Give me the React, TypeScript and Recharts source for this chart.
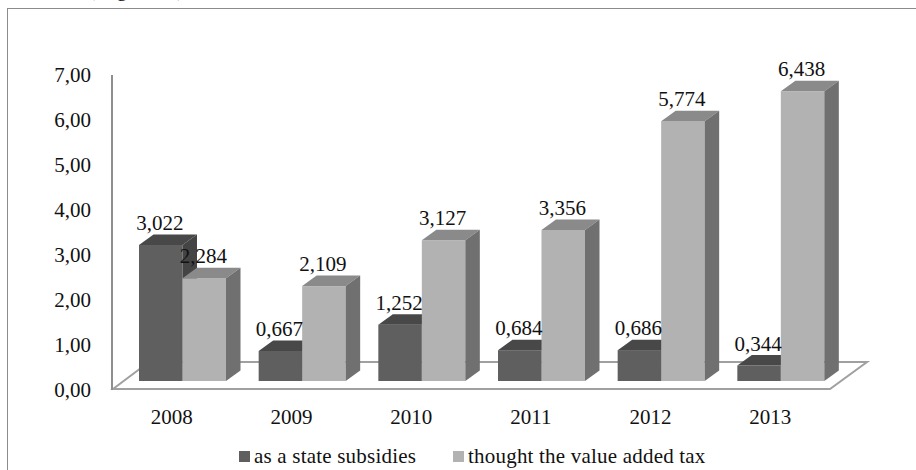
import React from 'react';
import { BarChart, Bar, XAxis, YAxis, LabelList, Legend, ReferenceArea } from 'recharts';

const years = ['2008', '2009', '2010', '2011', '2012', '2013'];
const stateSubsidies = [3.022, 0.667, 1.252, 0.684, 0.686, 0.344];
const valueAddedTax = [2.284, 2.109, 3.127, 3.356, 5.774, 6.438];
const yTicks = [0, 1, 2, 3, 4, 5, 6, 7];
const rows = years.map((year, i) => ({ year, subsidies: stateSubsidies[i], vat: valueAddedTax[i] }));

const FONT = '"Liberation Serif", "Times New Roman", serif';
const SHIFT_X = 11;
const SHIFT_Y = -9;
const DEPTH_X = 14.5;
const DEPTH_Y = 10.5;

const box = (front: string, top: string, side: string) => (props: any) => {
  const x = props.x + SHIFT_X;
  const y = props.y + SHIFT_Y;
  const w = props.width;
  const h = props.height;
  return (
    <g>
      <rect x={x} y={y} width={w} height={h} fill={front} />
      <polygon points={`${x},${y} ${x + DEPTH_X},${y - DEPTH_Y} ${x + w + DEPTH_X},${y - DEPTH_Y} ${x + w},${y}`} fill={top} />
      <polygon points={`${x + w},${y} ${x + w + DEPTH_X},${y - DEPTH_Y} ${x + w + DEPTH_X},${y + h - DEPTH_Y} ${x + w},${y + h}`} fill={side} />
    </g>
  );
};

const Floor = (props: any) => {
  const { x, y, width, height } = props;
  const skew = 37;
  const top = y - 1;
  const bottom = y + height - 1;
  return (
    <polygon
      points={`${x + 1},${bottom} ${x + skew},${top} ${x + width + skew},${top} ${x + width},${bottom}`}
      fill="#ffffff"
      stroke="#a0a0a0"
      strokeWidth={2}
    />
  );
};

const valueLabel = (dx: number) => (props: any) => {
  const { x, y, width, value } = props;
  return (
    <text x={x + width / 2 + dx} y={y - 24} textAnchor="middle" fontFamily={FONT} fontSize={21} fill="#111">
      {value.toFixed(3).replace('.', ',')}
    </text>
  );
};

const legendContent = () => (
  <div style={{ fontFamily: FONT, fontSize: 21, color: '#111', display: 'flex', alignItems: 'center', whiteSpace: 'nowrap' }}>
    <span style={{ width: 11, height: 11, background: '#5f5f5f', marginRight: 4 }} />
    <span style={{ letterSpacing: 0.2 }}>as a state subsidies</span>
    <span style={{ width: 11, height: 11, background: '#b2b2b2', marginLeft: 37, marginRight: 4 }} />
    <span style={{ letterSpacing: 0.2 }}>thought the value added tax</span>
  </div>
);

export default function App() {
  return (
    <div style={{ position: 'absolute', left: 0, top: 0, width: 916, height: 470, overflow: 'hidden', background: '#fff' }}>
      <div style={{ position: 'absolute', left: 88, top: -23, fontFamily: FONT, fontSize: 21, letterSpacing: 1.3, color: '#111' }}>(Figure 1)</div>
      <div style={{ position: 'absolute', left: 7, top: 8, width: 1000, height: 600, border: '1.5px solid #8c8c8c', boxSizing: 'border-box' }} />
      <div style={{ position: 'absolute', left: 0, top: 0 }}>
        <BarChart
          width={916}
          height={470}
          data={rows}
          margin={{ top: 75, right: 86, bottom: 15, left: 0 }}
          barGap={0}
          barSize={43.5}
          style={{ background: 'transparent' }}
        >
          <XAxis
            dataKey="year"
            axisLine={false}
            tickLine={false}
            height={40}
            tick={{ fontFamily: FONT, fontSize: 21, fill: '#111' }}
            tickMargin={13}
          />
          <YAxis
            domain={[0, 7]}
            ticks={yTicks}
            width={112}
            axisLine={{ stroke: '#8f8f8f', strokeWidth: 2 }}
            tickLine={false}
            tick={{ fontFamily: FONT, fontSize: 21, fill: '#111' }}
            tickFormatter={(v: number) => v.toFixed(2).replace('.', ',')}
            tickMargin={15}
          />
          <ReferenceArea y1={0} y2={0.6} shape={<Floor />} />
          <Legend content={legendContent} wrapperStyle={{ position: 'absolute', left: 239, top: 444, width: 'auto' }} />
          <Bar dataKey="subsidies" name="as a state subsidies" fill="#5f5f5f" isAnimationActive={false} shape={box('#5f5f5f', '#484848', '#444444')}>
            <LabelList dataKey="subsidies" content={valueLabel(10)} />
          </Bar>
          <Bar dataKey="vat" name="thought the value added tax" fill="#b2b2b2" isAnimationActive={false} shape={box('#b2b2b2', '#8a8a8a', '#707070')}>
            <LabelList dataKey="vat" content={valueLabel(10)} />
          </Bar>
        </BarChart>
      </div>
    </div>
  );
}
